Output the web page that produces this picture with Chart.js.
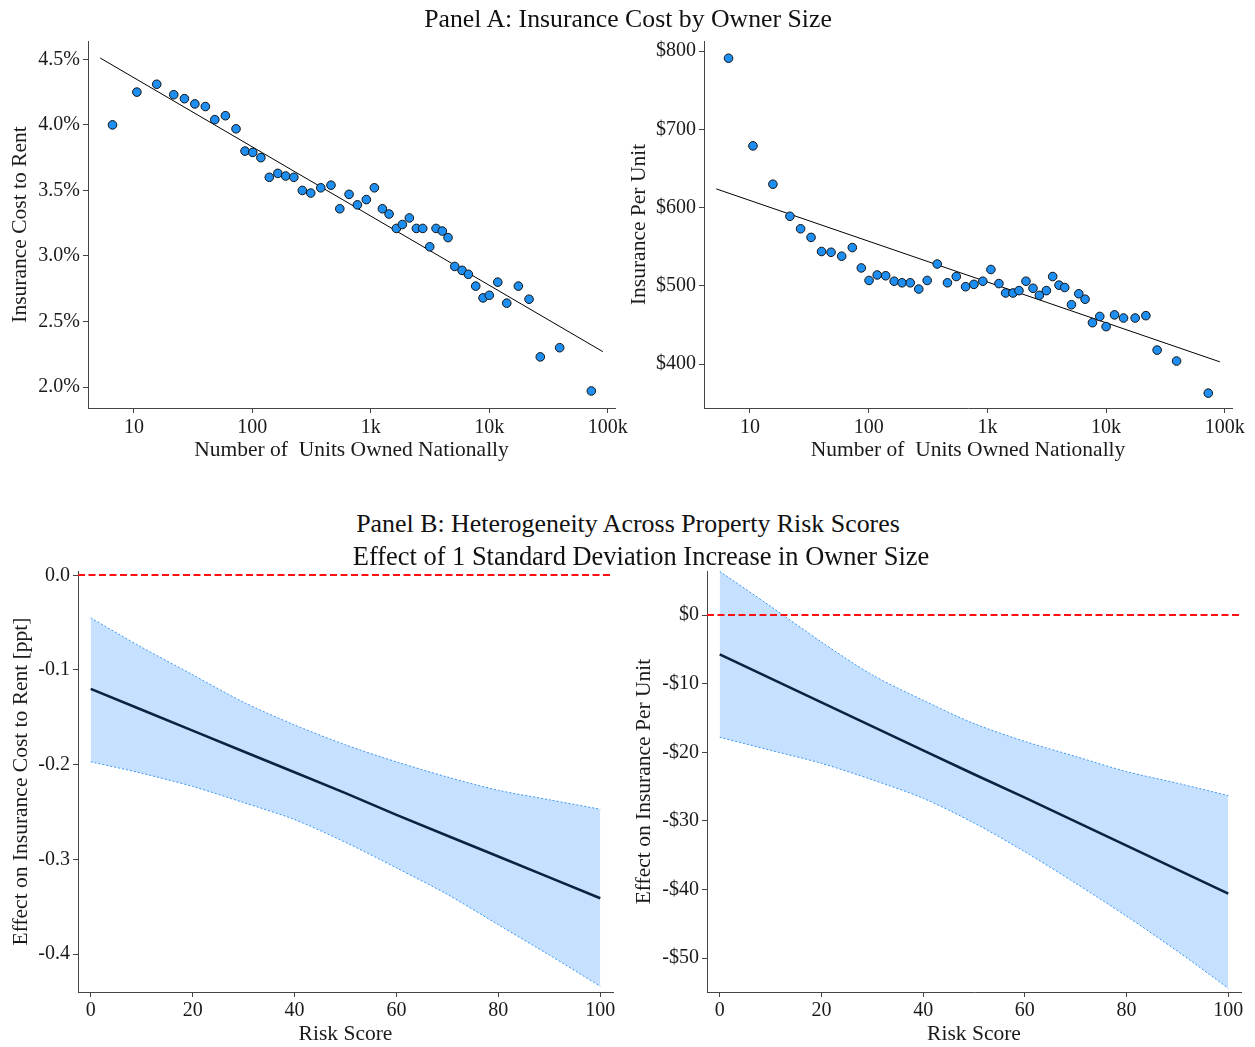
<!DOCTYPE html>
<html><head><meta charset="utf-8">
<script src="https://cdn.jsdelivr.net/npm/chart.js@4"></script>
<style>
html,body{margin:0;padding:0;background:#fff;}
body{width:1255px;height:1047px;position:relative;overflow:hidden;font-family:"Liberation Serif",serif;}
canvas{position:absolute;}
.ttl{position:absolute;white-space:nowrap;color:#111;font-family:"Liberation Serif",serif;line-height:1;transform:translate(-50%,-50%);z-index:5;}
</style></head><body>
<div class="ttl" id="tA" style="left:628px;top:19px;font-size:25px">Panel A: Insurance Cost by Owner Size</div>
<div class="ttl" id="tB" style="left:628px;top:524px;font-size:25px">Panel B: Heterogeneity Across Property Risk Scores</div>
<div class="ttl" id="tE" style="left:641px;top:556px;font-size:26px">Effect of 1 Standard Deviation Increase in Owner Size</div>
<canvas id="c1"></canvas>
<canvas id="c2"></canvas>
<canvas id="c3"></canvas>
<canvas id="c4"></canvas>
<script>
// ---------- Panel A data ----------
const units = [6.6,10.6,15.6,21.7,26.7,32.7,40.1,48.2,59.2,72.8,86.7,100.7,118,139,164,191,224,264,311,378,461,547,655,770,916,1071,1251,1425,1642,1845,2114,2422,2742,3141,3550,4012,4483,5108,5886,6654,7678,8850,10000,11780,14030,17580,21640,26920,39240,72600];
const costToRent = [4.00,4.25,4.31,4.23,4.20,4.16,4.14,4.04,4.07,3.97,3.80,3.79,3.75,3.60,3.63,3.61,3.60,3.50,3.48,3.52,3.54,3.36,3.47,3.39,3.43,3.52,3.36,3.32,3.21,3.24,3.29,3.21,3.21,3.07,3.21,3.19,3.14,2.92,2.89,2.86,2.77,2.68,2.70,2.80,2.64,2.77,2.67,2.23,2.30,1.97];
const costPerUnit = [791,679,630,589,573,562,544,543,538,549,523,507,514,513,506,504,504,496,507,528,504,512,499,502,506,521,503,491,491,494,506,497,488,494,512,501,498,476,490,483,453,461,448,463,459,459,462,418,404,363];
const fitUnits = [5.2, 90800];
const fitCostToRent = [4.51, 2.27];
const fitCostPerUnit = [624, 403];
const unitTicks = [10,100,1000,10000,100000];
const unitTickLabels = ['10','100','1k','10k','100k'];
const rateTicks = [2.0,2.5,3.0,3.5,4.0,4.5];
const rateTickLabels = ['2.0%','2.5%','3.0%','3.5%','4.0%','4.5%'];
const costTicks = [400,500,600,700,800];
const costTickLabels = ['$400','$500','$600','$700','$800'];

// ---------- Panel B data ----------
const riskScore = [0,10,20,30,40,50,60,70,80,90,100];
const effRateEst = [-0.120,-0.142,-0.164,-0.186,-0.208,-0.230,-0.253,-0.275,-0.297,-0.319,-0.341];
const effRateHi  = [-0.045,-0.076,-0.105,-0.134,-0.158,-0.179,-0.197,-0.213,-0.227,-0.237,-0.247];
const effRateLo  = [-0.197,-0.209,-0.223,-0.240,-0.258,-0.282,-0.309,-0.337,-0.369,-0.401,-0.434];
const effCostEst = [-5.7,-9.2,-12.7,-16.2,-19.7,-23.2,-26.6,-30.1,-33.6,-37.1,-40.6];
const effCostHi  = [6.4,1.3,-3.9,-8.7,-12.4,-15.8,-18.4,-20.6,-22.8,-24.5,-26.3];
const effCostLo  = [-17.8,-19.7,-21.6,-24.0,-26.7,-30.3,-34.5,-39.1,-43.9,-49.0,-54.4];
const riskTicks = [0,20,40,60,80,100];
const riskTickLabels = ['0','20','40','60','80','100'];
const effRateTicks = [0,-0.1,-0.2,-0.3,-0.4];
const effRateTickLabels = ['0.0','-0.1','-0.2','-0.3','-0.4'];
const effCostTicks = [0,-10,-20,-30,-40,-50];
const effCostTickLabels = ['$0','-$10','-$20','-$30','-$40','-$50'];

// ---------- fit titles to widths ----------
[['tA',408],['tB',544],['tE',577]].forEach(([id,w])=>{
  const el=document.getElementById(id);
  const fs=parseFloat(el.style.fontSize);
  el.style.fontSize=(fs*w/el.offsetWidth)+'px';
});

const FONT='"Liberation Serif", "Times New Roman", serif';
Chart.defaults.font.family=FONT;
Chart.defaults.color='#1a1a1a';
const AX='#444';

const zeroLine={id:'zeroLine',afterDatasetsDraw(chart){
  const o=chart.options.plugins.zeroLine; if(!o||!o.on) return;
  const y=Math.round(chart.scales.y.getPixelForValue(0)), a=chart.chartArea, c=chart.ctx;
  c.save(); c.strokeStyle='#ff1010'; c.lineWidth=2; c.setLineDash([7,3.5]);
  c.beginPath(); c.moveTo(a.left,y); c.lineTo(a.right,y); c.stroke(); c.restore();
}};

function setTicks(vals){return function(s){s.ticks=vals.map(v=>({value:v}));};}

function build(cfg){
  const cv=document.getElementById(cfg.id), B=cfg.box, P=cfg.plot;
  cv.width=B.w; cv.height=B.h;
  Object.assign(cv.style,{left:B.l+'px',top:B.t+'px',width:B.w+'px',height:B.h+'px'});
  const yW=P.l-B.l, xH=(B.t+B.h)-P.b;
  const tSize=21.5, lh=tSize*1.2;
  const yTitlePad=cfg.yTitleX-B.l-lh/2;
  const xTitlePad=(B.t+B.h)-cfg.xTitleY-lh/2;
  const tickFont={family:FONT,size:20};
  new Chart(cv,{
    type:cfg.type,
    data:{datasets:cfg.datasets},
    plugins:[zeroLine],
    options:{
      responsive:false, animation:false, devicePixelRatio:1,
      layout:{padding:{left:0,top:P.t-B.t,right:(B.l+B.w)-P.r,bottom:0}},
      plugins:{legend:{display:false},tooltip:{enabled:false},zeroLine:{on:!!cfg.zero}},
      scales:{
        x:Object.assign({
          min:cfg.xMin,max:cfg.xMax,
          grid:{display:true,drawOnChartArea:false,drawTicks:true,tickLength:5,color:AX,lineWidth:1},
          border:{display:true,color:AX,width:1},
          ticks:{font:tickFont,color:'#1a1a1a',padding:cfg.xTickPad,autoSkip:false,maxRotation:0,minRotation:0,
                 callback:(v,i)=>cfg.xLabels[i]},
          title:{display:true,text:cfg.xTitle,font:{family:FONT,size:tSize},color:'#1a1a1a',padding:{top:0,bottom:xTitlePad}},
          afterBuildTicks:setTicks(cfg.xTicks),
          afterFit:s=>{s.height=xH;}
        },cfg.xExtra||{}),
        y:{
          type:'linear',min:cfg.yMin,max:cfg.yMax,
          grid:{display:true,drawOnChartArea:false,drawTicks:true,tickLength:5,color:AX,lineWidth:1},
          border:{display:true,color:AX,width:1},
          ticks:{font:tickFont,color:'#1a1a1a',padding:3,autoSkip:false,callback:(v,i)=>cfg.yLabels[i]},
          title:{display:true,text:cfg.yTitle,font:{family:FONT,size:tSize},color:'#1a1a1a',padding:{top:yTitlePad,bottom:0}},
          afterBuildTicks:setTicks(cfg.yTicks),
          afterFit:s=>{s.width=yW;}
        }
      }
    }
  });
}

function scatterSets(vals,fitY){
  return [
    {type:'scatter',data:units.map((u,i)=>({x:u,y:vals[i]})),pointRadius:4.3,pointBorderWidth:1,
     pointBackgroundColor:'#1f8ef1',pointBorderColor:'#111',showLine:false},
    {type:'line',data:fitUnits.map((u,i)=>({x:u,y:fitY[i]})),borderColor:'#000',borderWidth:1,pointRadius:0,fill:false}
  ];
}
function bandSets(est,hi,lo){
  const m=a=>riskScore.map((r,i)=>({x:r,y:a[i]}));
  return [
    {data:m(est),borderColor:'#0c2340',borderWidth:2.6,pointRadius:0,fill:false,tension:0},
    {data:m(hi),borderColor:'#3a95f5',borderWidth:1,borderDash:[2,2],pointRadius:0,fill:'+1',
     backgroundColor:'rgba(40,145,255,0.27)',tension:0.3},
    {data:m(lo),borderColor:'#3a95f5',borderWidth:1,borderDash:[2,2],pointRadius:0,fill:false,tension:0.3}
  ];
}

const logX={type:'logarithmic'};
build({id:'c1',type:'scatter',box:{l:0,t:25,w:640,h:455},plot:{l:88,t:41,r:615,b:408},
  yTitleX:20,xTitleY:450,xTickPad:3,
  xMin:4.1,xMax:115000,xTicks:unitTicks,xLabels:unitTickLabels,xExtra:logX,xTitle:'Number of  Units Owned Nationally',
  yMin:1.84,yMax:4.64,yTicks:rateTicks,yLabels:rateTickLabels,yTitle:'Insurance Cost to Rent',
  datasets:scatterSets(costToRent,fitCostToRent)});
build({id:'c2',type:'scatter',box:{l:620,t:25,w:635,h:455},plot:{l:704,t:41,r:1232,b:408},
  yTitleX:639,xTitleY:450,xTickPad:3,
  xMin:4.1,xMax:115000,xTicks:unitTicks,xLabels:unitTickLabels,xExtra:logX,xTitle:'Number of  Units Owned Nationally',
  yMin:344,yMax:813,yTicks:costTicks,yLabels:costTickLabels,yTitle:'Insurance Per Unit',
  datasets:scatterSets(costPerUnit,fitCostPerUnit)});
build({id:'c3',type:'line',box:{l:0,t:550,w:640,h:497},plot:{l:78,t:571,r:613,b:992},
  yTitleX:21,xTitleY:1034,xTickPad:2,zero:true,
  xMin:-2.5,xMax:102.5,xTicks:riskTicks,xLabels:riskTickLabels,xExtra:{type:'linear'},xTitle:'Risk Score',
  yMin:-0.44,yMax:0.0045,yTicks:effRateTicks,yLabels:effRateTickLabels,yTitle:'Effect on Insurance Cost to Rent [ppt]',
  datasets:bandSets(effRateEst,effRateHi,effRateLo)});
build({id:'c4',type:'line',box:{l:625,t:550,w:630,h:497},plot:{l:707,t:571,r:1241,b:992},
  yTitleX:644,xTitleY:1034,xTickPad:2,zero:true,
  xMin:-2.5,xMax:102.5,xTicks:riskTicks,xLabels:riskTickLabels,xExtra:{type:'linear'},xTitle:'Risk Score',
  yMin:-54.95,yMax:6.45,yTicks:effCostTicks,yLabels:effCostTickLabels,yTitle:'Effect on Insurance Per Unit',
  datasets:bandSets(effCostEst,effCostHi,effCostLo)});
</script>
</body></html>
